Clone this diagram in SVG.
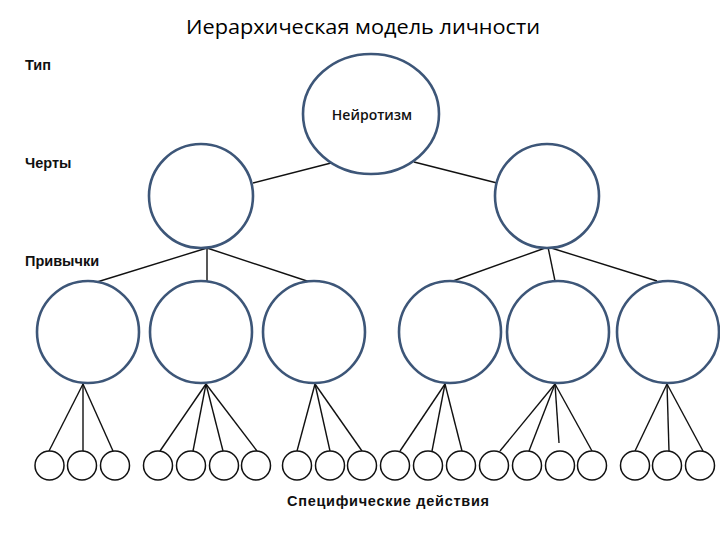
<svg xmlns="http://www.w3.org/2000/svg" width="720" height="540" viewBox="0 0 720 540">
<style>
.big{fill:#ffffff;stroke:#3d5678;stroke-width:2.6}
.small{fill:#ffffff;stroke:#111111;stroke-width:1.5}
.ln{stroke:#111111;stroke-width:1.4;fill:none}
.lbl{font-family:"Liberation Sans",Arial,sans-serif;font-weight:bold;font-size:14.5px;fill:#111111}
.title{font-family:"Open Sans","Liberation Sans",sans-serif;font-weight:500;font-size:20px;fill:#000000}
.node{font-family:"Open Sans","Liberation Sans",sans-serif;font-weight:600;font-size:14px;fill:#111111}
</style>
<rect width="720" height="540" fill="#ffffff"/>
<text class="title" x="363" y="34" text-anchor="middle" textLength="354" lengthAdjust="spacingAndGlyphs">Иерархическая модель личности</text>
<text class="lbl" x="25" y="70">Тип</text>
<text class="lbl" x="25" y="168">Черты</text>
<text class="lbl" x="25" y="266">Привычки</text>
<g id="connectors">
<line class="ln" x1="331" y1="163" x2="253" y2="183"/>
<line class="ln" x1="414" y1="162" x2="497" y2="183"/>
<line class="ln" x1="207" y1="248" x2="97" y2="282"/>
<line class="ln" x1="207" y1="248" x2="207" y2="281"/>
<line class="ln" x1="207" y1="248" x2="310" y2="282"/>
<line class="ln" x1="548" y1="247" x2="453" y2="281"/>
<line class="ln" x1="548" y1="247" x2="555" y2="281"/>
<line class="ln" x1="548" y1="247" x2="657" y2="281"/>
<line class="ln" x1="83" y1="384" x2="49" y2="451"/>
<line class="ln" x1="83" y1="384" x2="83" y2="451"/>
<line class="ln" x1="83" y1="384" x2="113" y2="451"/>
<line class="ln" x1="206" y1="384" x2="160" y2="451"/>
<line class="ln" x1="206" y1="384" x2="193" y2="451"/>
<line class="ln" x1="206" y1="384" x2="223" y2="451"/>
<line class="ln" x1="206" y1="384" x2="257" y2="451"/>
<line class="ln" x1="315" y1="384" x2="297" y2="451"/>
<line class="ln" x1="315" y1="384" x2="330" y2="451"/>
<line class="ln" x1="315" y1="384" x2="362" y2="451"/>
<line class="ln" x1="445" y1="384" x2="400" y2="451"/>
<line class="ln" x1="445" y1="384" x2="432" y2="451"/>
<line class="ln" x1="445" y1="384" x2="462" y2="451"/>
<line class="ln" x1="555" y1="384" x2="500" y2="451"/>
<line class="ln" x1="555" y1="384" x2="529" y2="451"/>
<line class="ln" x1="555" y1="384" x2="559" y2="443"/>
<line class="ln" x1="555" y1="384" x2="592" y2="451"/>
<line class="ln" x1="667" y1="384" x2="635" y2="451"/>
<line class="ln" x1="667" y1="384" x2="669" y2="451"/>
<line class="ln" x1="667" y1="384" x2="703" y2="451"/>
</g>
<g id="type-neuroticism">
<ellipse class="big" cx="371" cy="114" rx="68" ry="60"/>
<text class="node" x="372" y="120" text-anchor="middle">Нейротизм</text>
</g>
<g id="trait-1"><circle class="big" cx="201" cy="196" r="52"/></g>
<g id="trait-2"><circle class="big" cx="547" cy="196" r="52"/></g>
<g id="habit-1"><circle class="big" cx="88" cy="332" r="51"/></g>
<g id="habit-2"><circle class="big" cx="201" cy="332" r="51"/></g>
<g id="habit-3"><circle class="big" cx="314" cy="332" r="51"/></g>
<g id="habit-4"><circle class="big" cx="450" cy="332" r="51"/></g>
<g id="habit-5"><circle class="big" cx="558" cy="332" r="51"/></g>
<g id="habit-6"><circle class="big" cx="668" cy="332" r="51"/></g>
<g id="act-1"><circle class="small" cx="49.5" cy="465.5" r="14.5"/></g>
<g id="act-2"><circle class="small" cx="82" cy="465.5" r="14.5"/></g>
<g id="act-3"><circle class="small" cx="115" cy="465.5" r="14.5"/></g>
<g id="act-4"><circle class="small" cx="158" cy="465.5" r="14.5"/></g>
<g id="act-5"><circle class="small" cx="191" cy="465.5" r="14.5"/></g>
<g id="act-6"><circle class="small" cx="224" cy="465.5" r="14.5"/></g>
<g id="act-7"><circle class="small" cx="256" cy="465.5" r="14.5"/></g>
<g id="act-8"><circle class="small" cx="297" cy="465.5" r="14.5"/></g>
<g id="act-9"><circle class="small" cx="330" cy="465.5" r="14.5"/></g>
<g id="act-10"><circle class="small" cx="362" cy="465.5" r="14.5"/></g>
<g id="act-11"><circle class="small" cx="395" cy="465.5" r="14.5"/></g>
<g id="act-12"><circle class="small" cx="428" cy="465.5" r="14.5"/></g>
<g id="act-13"><circle class="small" cx="461" cy="465.5" r="14.5"/></g>
<g id="act-14"><circle class="small" cx="494" cy="465.5" r="14.5"/></g>
<g id="act-15"><circle class="small" cx="527" cy="465.5" r="14.5"/></g>
<g id="act-16"><circle class="small" cx="560" cy="465.5" r="14.5"/></g>
<g id="act-17"><circle class="small" cx="592" cy="465.5" r="14.5"/></g>
<g id="act-18"><circle class="small" cx="635" cy="465.5" r="14.5"/></g>
<g id="act-19"><circle class="small" cx="667" cy="465.5" r="14.5"/></g>
<g id="act-20"><circle class="small" cx="700" cy="465.5" r="14.5"/></g>
<text class="lbl" x="287" y="506" textLength="202" lengthAdjust="spacing">Специфические действия</text>
</svg>
